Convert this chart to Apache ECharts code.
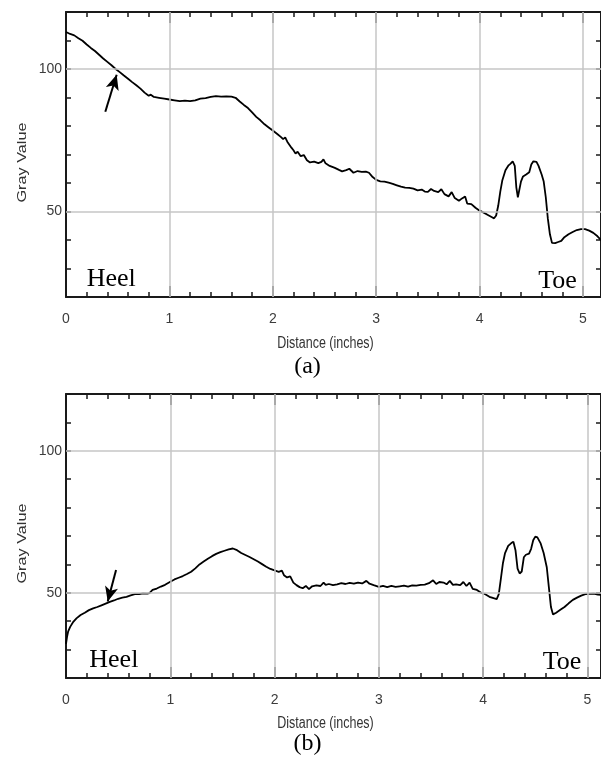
<!DOCTYPE html>
<html><head><meta charset="utf-8">
<script src="https://cdn.jsdelivr.net/npm/echarts@6/dist/echarts.min.js"></script>
<style>html,body{margin:0;padding:0;background:#fff}#c{width:601px;height:760px}</style>
</head><body><div id="c"></div>
<script>
// ---- data ----
const distA = [0.00,0.04,0.08,0.12,0.16,0.20,0.24,0.28,0.32,0.36,0.40,0.44,0.48,0.52,0.56,0.60,0.64,0.68,0.72,0.76,0.80,0.82,0.85,0.90,0.95,1.00,1.05,1.10,1.15,1.20,1.25,1.30,1.35,1.40,1.45,1.50,1.55,1.60,1.64,1.68,1.72,1.76,1.80,1.84,1.88,1.92,1.96,2.00,2.04,2.08,2.10,2.12,2.14,2.18,2.20,2.22,2.24,2.27,2.30,2.33,2.36,2.40,2.44,2.47,2.49,2.51,2.55,2.60,2.64,2.67,2.71,2.74,2.78,2.82,2.86,2.90,2.93,2.96,3.00,3.04,3.08,3.12,3.16,3.20,3.24,3.28,3.32,3.36,3.40,3.44,3.47,3.50,3.53,3.56,3.60,3.63,3.66,3.70,3.73,3.76,3.80,3.83,3.86,3.88,3.92,3.96,4.00,4.04,4.08,4.12,4.14,4.16,4.18,4.20,4.22,4.25,4.28,4.30,4.32,4.34,4.355,4.37,4.385,4.40,4.42,4.45,4.48,4.50,4.52,4.55,4.57,4.60,4.62,4.64,4.66,4.68,4.70,4.73,4.76,4.79,4.82,4.86,4.90,4.94,4.98,5.02,5.06,5.10,5.14,5.18];
const grayA = [113.0,112.3,111.8,110.8,109.9,108.6,107.4,106.3,105.0,103.7,102.5,101.3,100.0,98.9,97.7,96.6,95.4,94.3,93.1,91.7,90.6,91.0,90.2,89.9,89.6,89.3,89.0,88.7,88.9,88.7,89.0,89.6,89.8,90.2,90.5,90.3,90.4,90.3,89.9,88.6,87.4,86.3,84.8,83.2,82.0,80.6,79.5,78.4,77.3,76.1,75.4,76.0,74.5,72.4,71.5,70.3,71.0,69.4,69.8,68.0,67.2,67.5,67.0,67.4,68.3,66.9,66.0,65.3,64.6,64.1,64.5,65.0,63.6,64.2,63.9,64.0,63.6,62.3,61.1,60.6,60.5,60.1,59.7,59.2,58.7,58.4,58.3,58.0,57.4,57.7,57.0,56.9,57.9,57.2,56.8,57.8,56.1,55.3,56.8,54.7,53.8,54.6,55.3,52.8,52.6,51.3,50.3,49.6,48.8,48.0,47.6,48.6,52.0,57.0,61.0,64.5,66.2,66.8,67.6,66.0,58.5,55.0,55.4,60.5,62.3,63.0,63.8,66.5,67.6,67.4,66.0,63.0,60.5,55.0,47.5,42.0,39.0,38.9,39.3,39.7,41.0,42.0,42.8,43.5,43.8,43.8,43.3,42.5,41.3,39.8];
const distB = [0.00,0.01,0.02,0.04,0.07,0.10,0.14,0.18,0.22,0.26,0.30,0.34,0.38,0.42,0.46,0.50,0.54,0.58,0.62,0.66,0.70,0.74,0.78,0.80,0.83,0.87,0.91,0.95,1.00,1.04,1.08,1.12,1.16,1.20,1.24,1.28,1.32,1.36,1.40,1.44,1.48,1.52,1.56,1.60,1.64,1.68,1.72,1.76,1.80,1.84,1.88,1.92,1.96,2.00,2.04,2.07,2.09,2.12,2.15,2.18,2.21,2.24,2.27,2.30,2.33,2.36,2.40,2.44,2.47,2.49,2.52,2.56,2.60,2.64,2.68,2.72,2.76,2.80,2.84,2.88,2.91,2.95,3.00,3.04,3.08,3.12,3.16,3.20,3.24,3.28,3.32,3.36,3.40,3.44,3.48,3.52,3.55,3.58,3.62,3.65,3.68,3.71,3.74,3.78,3.81,3.84,3.87,3.90,3.94,3.98,4.02,4.06,4.10,4.13,4.15,4.17,4.19,4.21,4.24,4.27,4.29,4.31,4.33,4.35,4.37,4.39,4.41,4.44,4.46,4.48,4.50,4.52,4.55,4.58,4.61,4.63,4.65,4.67,4.70,4.74,4.78,4.82,4.86,4.90,4.94,4.98,5.02,5.06,5.10,5.14];
const grayB = [32.0,34.5,36.3,38.0,39.8,41.0,42.2,43.0,43.9,44.5,45.0,45.6,46.2,46.8,47.3,47.9,48.3,48.6,49.1,49.5,49.5,49.8,49.7,49.9,51.0,51.5,52.2,52.8,53.9,54.7,55.3,55.9,56.6,57.4,58.6,60.0,61.0,62.0,62.9,63.7,64.3,64.8,65.3,65.6,65.0,64.0,63.3,62.6,61.8,61.0,60.1,59.2,58.4,57.9,57.4,57.8,56.2,55.4,55.8,53.6,52.7,52.0,51.6,52.4,51.3,52.3,52.6,52.4,53.6,52.8,53.1,52.7,53.0,53.4,53.1,53.5,53.2,53.6,53.3,54.2,53.2,52.7,52.1,52.4,52.0,52.4,52.1,52.3,52.5,52.2,52.6,52.5,52.8,52.9,53.4,54.4,53.1,53.8,53.6,53.0,54.2,52.8,53.0,52.7,53.8,52.4,53.6,51.4,51.0,50.0,49.5,48.6,48.1,47.8,49.5,55.0,60.5,64.0,66.5,67.5,68.0,65.0,58.5,56.8,57.5,62.5,63.4,63.8,65.5,68.5,69.8,69.5,67.5,64.0,59.0,52.0,45.0,42.4,43.0,44.0,45.0,46.3,47.5,48.3,49.0,49.5,49.6,49.7,49.4,49.2];
const xMajorTicks = [0,1,2,3,4,5];
const yLabelValues = [50,100];
const gridXValues = [1,2,3,4,5];
const gridYValues = [50,100];
const arrowA = [[0.38,85.0],[0.49,98.0]];
const arrowB = [[0.48,58.0],[0.40,46.9]];
const endLabels = ['Heel','Toe'];
const panelLabels = ['(a)','(b)'];
const xName = 'Distance (inches)';
const yName = 'Gray Value';

// ---- build ----
const minorTicks = [];
for (let i = 1; i < 26; i++) { if (i % 5) minorTicks.push(+(i*0.2).toFixed(1)); }
const pairs = (xs, ys) => xs.map((x, i) => [x, ys[i]]);
const tickFont = "'Liberation Sans',Arial,sans-serif";
const panels = [
  {left:66, top:12, width:535, height:285, xmax:5.174},
  {left:66, top:394, width:535, height:284, xmax:5.13}
];
const grids = [], xAxes = [], yAxes = [], series = [];
panels.forEach((p, k) => {
  const gMain = grids.length;
  grids.push({left:p.left, top:p.top, width:p.width, height:p.height});
  grids.push({left:p.left, top:p.top, width:p.width, height:p.height});
  const axLine = {show:true, onZero:false, lineStyle:{color:'#1a1a1a', width:2}};
  const xBase = {type:'value', min:0, max:p.xmax, splitLine:{show:false}};
  const xi = xAxes.length;
  xAxes.push(Object.assign({}, xBase, {gridIndex:gMain, position:'bottom', interval:1,
    axisLine:axLine,
    axisTick:{show:true, inside:true, length:11, customValues:xMajorTicks, lineStyle:{color:'#1a1a1a', width:1.5}},
    axisLabel:{show:true, customValues:xMajorTicks, margin:15, color:'#3c3c3c', fontSize:14, fontFamily:tickFont, formatter:v=>String(Math.round(v))}}));
  xAxes.push(Object.assign({}, xBase, {gridIndex:gMain, position:'top', interval:1,
    axisLine:axLine,
    axisTick:{show:true, inside:true, length:11, customValues:xMajorTicks, lineStyle:{color:'#1a1a1a', width:1.5}},
    axisLabel:{show:false}}));
  xAxes.push(Object.assign({}, xBase, {gridIndex:gMain+1, position:'bottom', interval:0.2,
    axisLine:{show:false},
    axisTick:{show:true, inside:true, length:5, customValues:minorTicks, lineStyle:{color:'#1a1a1a', width:1.5}},
    axisLabel:{show:false}}));
  xAxes.push(Object.assign({}, xBase, {gridIndex:gMain+1, position:'top', interval:0.2,
    axisLine:{show:false},
    axisTick:{show:true, inside:true, length:5, customValues:minorTicks, lineStyle:{color:'#1a1a1a', width:1.5}},
    axisLabel:{show:false}}));
  const yi = yAxes.length;
  const yBase = {type:'value', min:20, max:120, interval:10, splitLine:{show:false}};
  yAxes.push(Object.assign({}, yBase, {gridIndex:gMain, position:'left', axisLine:axLine,
    axisTick:{show:true, inside:true, length:5, lineStyle:{color:'#1a1a1a', width:1.5}},
    axisLabel:{show:true, margin:4, color:'#3c3c3c', fontSize:14, fontFamily:tickFont,
      formatter:v=> yLabelValues.indexOf(Math.round(v)) >= 0 ? String(Math.round(v)) : ''}}));
  yAxes.push(Object.assign({}, yBase, {gridIndex:gMain, position:'right', axisLine:axLine,
    axisTick:{show:true, inside:true, length:5, lineStyle:{color:'#1a1a1a', width:1.5}},
    axisLabel:{show:false}}));
  yAxes.push(Object.assign({}, yBase, {gridIndex:gMain+1, show:false}));

  series.push({type:'line', xAxisIndex:xi, yAxisIndex:yi, data:[], z:1, silent:true,
    markLine:{silent:true, symbol:['none','none'], animation:false,
      label:{show:false}, lineStyle:{color:'#c6c6c6', width:1.5, type:'solid'},
      emphasis:{disabled:true},
      data: gridXValues.map(v=>({xAxis:v})).concat(gridYValues.map(v=>({yAxis:v})))}});
  const arrow = k === 0 ? arrowA : arrowB;
  series.push({type:'line', xAxisIndex:xi, yAxisIndex:yi, z:3,
    data: k === 0 ? pairs(distA, grayA) : pairs(distB, grayB),
    showSymbol:false, symbol:'none', animation:false,
    lineStyle:{color:'#000', width:1.8}, itemStyle:{color:'#000'},
    markLine:{silent:true, animation:false, symbol:['none','arrow'], symbolSize:[10,15],
      label:{show:false}, emphasis:{disabled:true},
      lineStyle:{color:'#000', width:2, type:'solid'}, itemStyle:{color:'#000'},
      data:[[{coord:arrow[0]},{coord:arrow[1]}]]}});
});

const serif = '"Liberation Serif","Times New Roman",serif';
const sans = '"Liberation Sans",Arial,sans-serif';
const txt = (x, y, text, font) => ({type:'text', x, y, silent:true,
  style:{text, font, fill:'#000', align:'left', verticalAlign:'middle'}});
const graphic = [];
const offs = [0, 381];
const heelX = [86.7, 89.3], toeX = [538.3, 542.7];
[0,1].forEach(k => {
  const dy = offs[k];
  graphic.push(txt(heelX[k], 278.7 + dy, endLabels[0], '26px ' + serif));
  graphic.push(txt(toeX[k], 281 + dy, endLabels[1], '26px ' + serif));
  graphic.push({type:'text', x:307.5, y:366.5 + (k ? 377.5 : 0), silent:true,
    style:{text:panelLabels[k], font:'24px ' + serif, fill:'#000', align:'center', verticalAlign:'middle'}});
  graphic.push({type:'text', x:325.5, y:344 + (k ? 379.5 : 0), scaleY:1.3, silent:true,
    style:{text:xName, font:'12.5px ' + sans, fill:'#333', align:'center', verticalAlign:'middle'}});
  graphic.push({type:'text', x:22.5, y:162.5 + (k ? 381 : 0), rotation:Math.PI/2, scaleX:1.3, silent:true,
    style:{text:yName, font:'12.5px ' + sans, fill:'#333', align:'center', verticalAlign:'middle'}});
});

const chart = echarts.init(document.getElementById('c'), null, {renderer:'canvas'});
chart.setOption({
  backgroundColor:'#fff', animation:false,
  grid:grids, xAxis:xAxes, yAxis:yAxes, series, graphic
});
</script></body></html>
